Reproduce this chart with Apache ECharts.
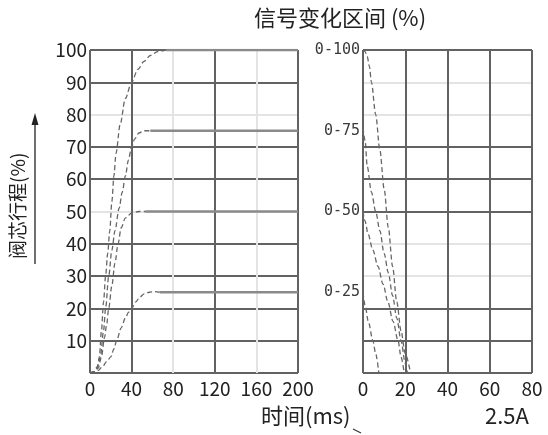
<!DOCTYPE html>
<html>
<head>
<meta charset="utf-8">
<script src="https://cdn.jsdelivr.net/npm/echarts@6/dist/echarts.min.js"></script>
<style>
  html, body { margin: 0; padding: 0; background: #fff; }
  #chart { width: 548px; height: 435px; }
</style>
</head>
<body>
<div id="chart"></div>
<script>
// Opening (rise) curves: [time ms, spool stroke %]
const rise100 = [[0,0],[4,0.5],[7,2],[9,5],[11,13],[13,22],[15,30],[17,37],[19,44],[21,53],[23,61],[25,68],[29,77],[34,85],[40,90],[46,94],[52,96.5],[58,98.3],[65,99.5],[73,100]];
const rise75  = [[0,0],[4,0.4],[7,1.5],[10,5],[13,13],[15,20],[18,30],[21,38],[24,44],[28,51],[31,56],[34,61],[37,66],[40,70],[43,72.5],[47,74.3],[52,75],[58,75]];
const rise50  = [[0,0],[4,0.3],[8,1.5],[11,5],[14,11],[16,15],[18,20],[21,27],[24,34],[27,40],[30,45],[34,48],[40,49.5],[47,50],[53,50]];
const rise25  = [[0,0],[4,0.3],[8,0.8],[12,2],[16,3.5],[20,5],[23,7.5],[26,10.5],[30,14],[34,17],[37,18.8],[40,20],[44,22],[48,23.5],[52,24.5],[57,25],[62,25.2],[67,25]];

// Steady-state levels and where the held (solid) line begins
const levels = [100, 75, 50, 25];
const holdStart = [73, 58, 53, 67];

// Closing (fall) curves: [time ms, spool stroke %]
const fall100 = [[0,100],[1,99.5],[2,98],[3,95],[4,90],[6,80],[8,69],[10,57],[12,45],[14,33],[16,22],[18,13],[20,6],[22.5,0]];
const fall75  = [[0,76],[1,72],[2,64],[4,56],[6,50],[8,44],[10,37],[12,31],[14,24],[16,17],[18,10],[20,3],[21,0]];
const fall50  = [[0,50],[1,47],[2.4,43],[4.7,38],[7.1,33],[9.5,27.5],[11.8,22],[14.2,16],[16.6,10],[18,5],[19.5,0]];
const fall25  = [[0,25],[1,21],[2.5,16],[4.7,10],[6,6],[7.5,0]];

// Axis ticks
const leftXTicks = [0, 40, 80, 120, 160, 200];
const rightXTicks = [0, 20, 40, 60, 80];
const rightLevelLabels = ['0-25', '0-50', '0-75', '0-100'];

const FONT = 'Noto Sans CJK SC';
const DARK = '#626262';
const LIGHT = '#e4e4e4';

const chart = echarts.init(document.getElementById('chart'), null, { renderer: 'canvas' });

const dashed = { type: [5, 3], width: 1.3, color: '#666' };
const solid = { type: 'solid', width: 2.4, color: '#8a8a8a' };

function riseSeries(data) {
  return { type: 'line', xAxisIndex: 0, yAxisIndex: 0, data, showSymbol: false, smooth: 0.3, smoothMonotone: 'x', lineStyle: dashed, silent: true, z: 3 };
}
function holdSeries(level, start) {
  return { type: 'line', xAxisIndex: 0, yAxisIndex: 0, data: [[start, level], [leftXTicks[leftXTicks.length - 1], level]], showSymbol: false, lineStyle: solid, silent: true, z: 3 };
}
function fallSeries(data) {
  return { type: 'line', xAxisIndex: 1, yAxisIndex: 1, data, showSymbol: false, smooth: 0.3, smoothMonotone: 'x', lineStyle: dashed, silent: true, z: 3 };
}

const tickLabel = { fontSize: 19, color: '#222', fontFamily: FONT };

const option = {
  animation: false,
  textStyle: { fontFamily: FONT },
  grid: [
    { left: 90, top: 50, width: 208, height: 323 },
    { left: 363, top: 50, width: 169, height: 323 }
  ],
  xAxis: [
    {
      gridIndex: 0, type: 'value', min: leftXTicks[0], max: leftXTicks[leftXTicks.length - 1], interval: 40,
      axisLine: { show: false }, axisTick: { show: false },
      axisLabel: Object.assign({ margin: 6 }, tickLabel),
      splitLine: { show: true, lineStyle: { width: 2, color: [DARK, DARK, LIGHT, DARK, LIGHT, DARK] } }
    },
    {
      gridIndex: 1, type: 'value', min: rightXTicks[0], max: rightXTicks[rightXTicks.length - 1], interval: 20,
      axisLine: { show: false }, axisTick: { show: false },
      axisLabel: Object.assign({ margin: 6 }, tickLabel),
      splitLine: { show: true, lineStyle: { width: 2, color: DARK } }
    }
  ],
  yAxis: [
    {
      gridIndex: 0, type: 'value', min: 0, max: 100, interval: 10, position: 'left',
      axisLine: { show: false }, axisTick: { show: false },
      axisLabel: Object.assign({ margin: 3, formatter: v => (v === 0 ? '' : String(v)) }, tickLabel),
      splitLine: { show: true, lineStyle: { width: 2, color: [DARK, DARK, DARK, DARK, DARK, LIGHT, DARK, DARK, LIGHT, DARK, DARK] } }
    },
    {
      gridIndex: 1, type: 'value', min: 0, max: 100, interval: 10, position: 'left',
      axisLine: { show: false }, axisTick: { show: false }, axisLabel: { show: false },
      splitLine: { show: true, lineStyle: { width: 2, color: [DARK, DARK, DARK, LIGHT, LIGHT, DARK, DARK, DARK, LIGHT, LIGHT, DARK] } }
    },
    {
      gridIndex: 1, type: 'value', min: 0, max: 100, interval: 25, position: 'left',
      axisLine: { show: false }, axisTick: { show: false }, splitLine: { show: false },
      axisLabel: {
        fontSize: 15, color: '#3a3a3a', margin: 3, fontFamily: 'DejaVu Sans Mono',
        formatter: v => (v === 0 ? '' : rightLevelLabels[v / 25 - 1])
      }
    }
  ],
  series: [
    riseSeries(rise100), riseSeries(rise75), riseSeries(rise50), riseSeries(rise25),
    holdSeries(levels[0], holdStart[0]), holdSeries(levels[1], holdStart[1]),
    holdSeries(levels[2], holdStart[2]), holdSeries(levels[3], holdStart[3]),
    fallSeries(fall100), fallSeries(fall75), fallSeries(fall50), fallSeries(fall25)
  ],
  graphic: [
    { type: 'text', left: 254, top: 7, style: { text: '信号变化区间 (%)', font: '22px "Noto Sans CJK SC"', fill: '#222' } },
    { type: 'text', left: 261, top: 405, style: { text: '时间(ms)', font: '22px "Noto Sans CJK SC"', fill: '#222' } },
    { type: 'text', left: 485, top: 405, style: { text: '2.5A', font: '22px "Noto Sans CJK SC"', fill: '#222' } },
    {
      type: 'text', x: 8, y: 259, rotation: Math.PI / 2,
      style: { text: '阀芯行程(%)', font: '19px "Noto Sans CJK SC"', fill: '#222' }
    },
    { type: 'line', shape: { x1: 35, y1: 264, x2: 35, y2: 122 }, style: { stroke: '#222', lineWidth: 1.3 } },
    { type: 'polygon', shape: { points: [[35, 113], [31.5, 125], [38.5, 125]] }, style: { fill: '#222' } },
    { type: 'line', shape: { x1: 353, y1: 429, x2: 361, y2: 433 }, style: { stroke: '#333', lineWidth: 1.2 } }
  ]
};

chart.setOption(option);
</script>
</body>
</html>
